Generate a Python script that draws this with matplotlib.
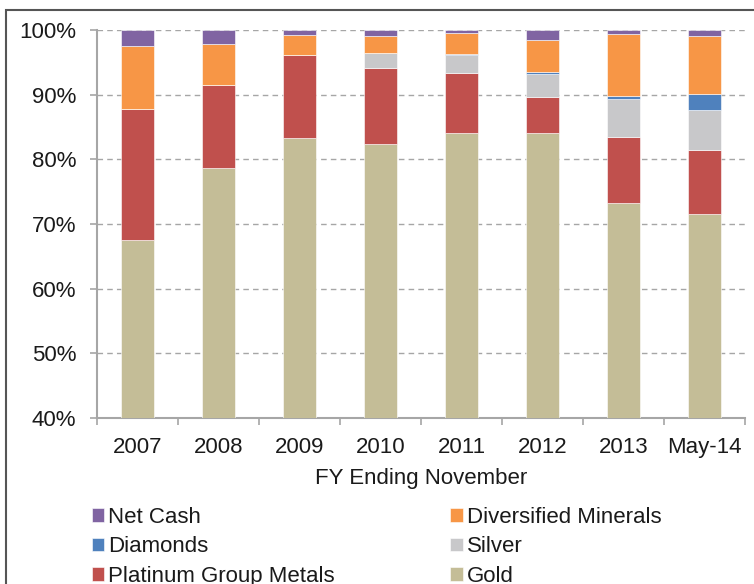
import numpy as np
import matplotlib.pyplot as plt
from matplotlib.patches import Rectangle

plt.rcParams['font.family'] = ['Liberation Sans', 'DejaVu Sans']

years = ['2007', '2008', '2009', '2010', '2011', '2012', '2013', 'May-14']
gold = [67.6, 78.7, 83.3, 82.4, 84.1, 84.1, 73.3, 71.5]
pgm = [20.2, 12.8, 12.9, 11.8, 9.3, 5.6, 10.1, 9.9]
silver = [0.0, 0.0, 0.0, 2.2, 2.7, 3.5, 5.9, 6.3]
diamonds = [0.0, 0.0, 0.0, 0.0, 0.2, 0.3, 0.5, 2.4]
diversified = [9.7, 6.4, 3.0, 2.7, 3.2, 5.0, 9.6, 9.0]
net_cash = [2.5, 2.1, 0.8, 0.9, 0.5, 1.5, 0.6, 0.9]

series = [
    ('Gold', gold, '#C4BD97'),
    ('Platinum Group Metals', pgm, '#C0504D'),
    ('Silver', silver, '#C8C8CA'),
    ('Diamonds', diamonds, '#4F81BD'),
    ('Diversified Minerals', diversified, '#F79646'),
    ('Net Cash', net_cash, '#8064A2'),
]

fig = plt.figure(figsize=(7.54, 5.84), dpi=100)
ax = fig.add_axes([0.1286, 0.2842, 0.8594, 0.6644])

x = np.arange(len(years))
bottom = np.zeros(len(years))
bars = {}
for name, vals, col in series:
    vals = np.array(vals)
    bars[name] = ax.bar(x, vals, 0.4, bottom=bottom, color=col,
                        edgecolor='white', linewidth=0.4, label=name, zorder=3)
    bottom = bottom + vals

ax.set_ylim(40, 100)
ax.set_xlim(-0.5, len(years) - 0.5)
ax.set_yticks(np.arange(40, 101, 10))
ax.set_yticklabels([f'{v}%' for v in range(40, 101, 10)])
ax.yaxis.grid(True, linestyle=(0, (4, 3)), color='#A6A6A6', linewidth=1, zorder=0)
ax.set_axisbelow(True)

ax.set_xticks(x)
ax.set_xticklabels(years)
ax.set_xticks(np.arange(-0.5, len(years), 1), minor=True)
ax.tick_params(axis='x', which='major', length=0, pad=14, labelsize=16, colors='#1a1a1a')
ax.tick_params(axis='x', which='minor', length=5, width=1.2, color='#A6A6A6', direction='out')
ax.tick_params(axis='y', length=5, width=1.2, color='#A6A6A6', pad=10, labelsize=16, labelcolor='#1a1a1a')

for s in ['top', 'right']:
    ax.spines[s].set_visible(False)
for s in ['left', 'bottom']:
    ax.spines[s].set_color('#A6A6A6')
    ax.spines[s].set_linewidth(1.5)

ax.set_xlabel('FY Ending November', fontsize=16, color='#1a1a1a', labelpad=7)

order = ['Net Cash', 'Diamonds', 'Platinum Group Metals',
         'Diversified Minerals', 'Silver', 'Gold']
handles = [bars[n] for n in order]
fig.legend(handles, order, loc='upper left', bbox_to_anchor=(0.122, 0.132),
           ncol=2, frameon=False, fontsize=16, handlelength=0.55, handleheight=0.55,
           handletextpad=0.18, columnspacing=5.2, labelspacing=0.38, borderpad=0,
           borderaxespad=0, labelcolor='#1a1a1a')

# outer border of the chart frame
fig.patches.append(Rectangle((6 / 754, -0.1), 1.2, 1 - 10 / 584 + 0.1,
                             transform=fig.transFigure, fill=False,
                             edgecolor='#555555', linewidth=1.5))

fig.savefig('out.png', dpi=100)
